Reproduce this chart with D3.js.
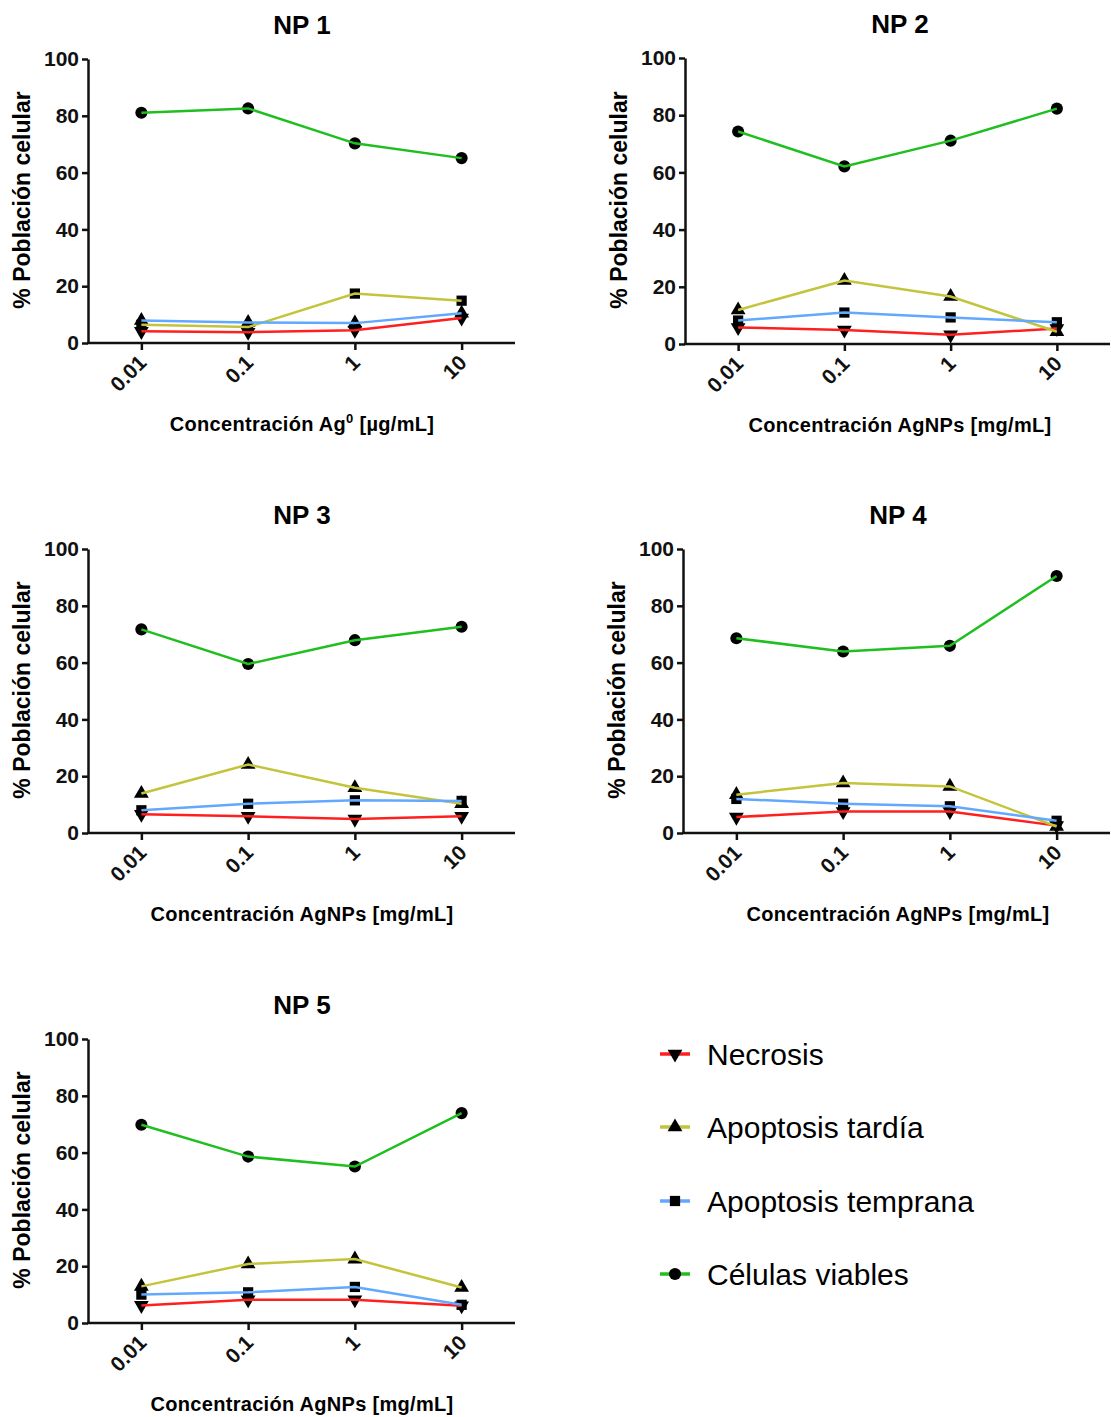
<!DOCTYPE html>
<html>
<head>
<meta charset="utf-8">
<script src="https://cdn.jsdelivr.net/npm/d3@7"></script>
<style>
  body { margin: 0; background: #fff; }
  text { font-family: "Liberation Sans", Arial, sans-serif; }
</style>
</head>
<body>
<script>
'use strict';

// x values and tick labels
const concentrations = [0.01, 0.1, 1, 10];
const tickLabels = ["0.01", "0.1", "1", "10"];
const yTicks = [0, 20, 40, 60, 80, 100];

// panels
const panelTitles = ["NP 1", "NP 2", "NP 3", "NP 4", "NP 5"];
const xTitles = ["Ag0", "AgNPs [mg/mL]", "AgNPs [mg/mL]", "AgNPs [mg/mL]", "AgNPs [mg/mL]"];

// series (one row per panel, NP1..NP5)
const seriesNames = ["Necrosis", "Apoptosis tardía", "Apoptosis temprana", "Células viables"];
const necrosis = [
  [4.1, 3.8, 4.5, 8.8],
  [5.8, 4.9, 3.2, 5.4],
  [6.6, 5.9, 4.9, 5.9],
  [5.6, 7.6, 7.6, 2.6],
  [6.2, 8.2, 8.2, 6.1]
];
const apoptosisTardia = [
  [6.4, 5.6, 17.4, 14.9],
  [11.9, 22.2, 16.6, 4.3],
  [13.9, 24.1, 15.9, 10.3],
  [13.5, 17.6, 16.4, 2.3],
  [12.9, 20.8, 22.5, 12.5]
];
const apoptosisTemprana = [
  [7.9, 7.2, 7.0, 10.5],
  [8.2, 11.0, 9.3, 7.6],
  [8.0, 10.3, 11.5, 11.3],
  [12.0, 10.3, 9.4, 4.3],
  [10.0, 10.8, 12.7, 6.4]
];
const celulasViables = [
  [81.1, 82.6, 70.3, 65.1],
  [74.3, 62.1, 71.1, 82.3],
  [71.7, 59.5, 67.9, 72.6],
  [68.6, 63.9, 65.9, 90.5],
  [69.8, 58.6, 55.1, 73.9]
];

(function() {

  let svg = "";

  const colors = ["#ff1f1f", "#c4c43c", "#62a8ff", "#20bf20"];
  const shapes = ["down", "up", "square", "circle"];

  // panel placement: axis left, axis right end, top (100) and bottom (0), text centre
  const layout = [
    { x0: 88,  x1: 515,  top: 59,   bottom: 343,  cx: 302 },
    { x0: 685, x1: 1110, top: 58,   bottom: 344,  cx: 900 },
    { x0: 88,  x1: 515,  top: 549,  bottom: 833,  cx: 302 },
    { x0: 683, x1: 1110, top: 549,  bottom: 833,  cx: 898 },
    { x0: 88,  x1: 515,  top: 1039, bottom: 1323, cx: 302 }
  ];

  window.onload = function() {
    svg = d3.select('body')
      .append('svg')
      .attr('width', 1111)
      .attr('height', 1417);

    const allSeries = [necrosis, apoptosisTardia, apoptosisTemprana, celulasViables];

    for (let p = 0; p < 5; p++) {
      // NP 1 has the markers of the two apoptosis series swapped
      let markerOrder = p === 0 ? ["down", "square", "up", "circle"] : shapes;
      drawPanel(p, allSeries.map((s) => s[p]), markerOrder);
    }
    drawLegend();
  }

  function symbolPath(shape) {
    if (shape === "circle") return d3.symbol().type(d3.symbolCircle).size(115)();
    if (shape === "square") return d3.symbol().type(d3.symbolSquare).size(105)();
    return d3.symbol().type(d3.symbolTriangle).size(95)();
  }

  function drawPanel(p, values, markerOrder) {
    let L = layout[p];
    let g = svg.append('g');

    let xScale = d3.scaleLog()
      .domain([Math.pow(10, -2.5), Math.pow(10, 1.5)])
      .range([L.x0, L.x1]);
    let yScale = d3.scaleLinear()
      .domain([0, 100])
      .range([L.bottom, L.top]);

    // y axis
    let yAxis = g.append('g')
      .attr('transform', 'translate(' + L.x0 + ',0)')
      .call(d3.axisLeft(yScale).tickValues(yTicks).tickSize(6).tickPadding(3).tickSizeOuter(0));
    yAxis.selectAll('text')
      .style('font-size', '21px')
      .style('font-weight', 'bold')
      .attr('fill', '#111');

    // x axis
    let xAxis = g.append('g')
      .attr('transform', 'translate(0,' + L.bottom + ')')
      .call(d3.axisBottom(xScale).tickValues(concentrations)
        .tickFormat((d, i) => tickLabels[i]).tickSize(7).tickSizeOuter(0));
    xAxis.select('.domain').attr('d', 'M' + (L.x0 - 1) + ',0H' + L.x1);
    xAxis.selectAll('text')
      .style('font-size', '21px')
      .style('font-weight', 'bold')
      .attr('fill', '#111')
      .attr('text-anchor', 'end')
      .attr('dy', null)
      .attr('transform', 'translate(6,21) rotate(-45)')
      .attr('y', 0)
      .attr('x', 0);

    g.selectAll('.domain, .tick line')
      .attr('stroke', '#111')
      .attr('stroke-width', 2.5);

    // markers first, then lines on top
    values.forEach((vals, s) => {
      g.selectAll('.m' + s)
        .data(vals)
        .enter()
        .append('path')
        .attr('d', symbolPath(markerOrder[s]))
        .attr('transform', (d, i) => 'translate(' + xScale(concentrations[i]) + ',' + yScale(d) + ')' +
          (markerOrder[s] === "down" ? ' rotate(180)' : ''))
        .attr('fill', '#000');
    });

    let line = d3.line()
      .x((d, i) => xScale(concentrations[i]))
      .y((d) => yScale(d));

    values.forEach((vals, s) => {
      g.append('path')
        .datum(vals)
        .attr('d', line)
        .attr('fill', 'none')
        .attr('stroke', colors[s])
        .attr('stroke-width', 2.5);
    });

    // title
    g.append('text')
      .attr('x', L.cx)
      .attr('y', L.top - 25)
      .attr('text-anchor', 'middle')
      .style('font-size', '26px')
      .style('font-weight', 'bold')
      .text(panelTitles[p]);

    // y label
    g.append('text')
      .attr('transform', 'translate(' + (L.x0 - 58) + ',' + ((L.top + L.bottom) / 2 - 1) + ') rotate(-90)')
      .attr('text-anchor', 'middle')
      .style('font-size', '23px')
      .style('font-weight', 'bold')
      .text('% Población celular');

    // x label
    let xl = g.append('text')
      .attr('x', L.cx)
      .attr('y', L.bottom + 88)
      .attr('text-anchor', 'middle')
      .style('font-size', '20px')
      .style('font-weight', 'bold')
      .style('letter-spacing', '0.3px');
    if (xTitles[p] === "Ag0") {
      xl.append('tspan').text('Concentración Ag');
      xl.append('tspan').attr('dy', -8).style('font-size', '13px').text('0');
      xl.append('tspan').attr('dy', 8).text(' [µg/mL]');
    } else {
      xl.text('Concentración ' + xTitles[p]);
    }
  }

  function drawLegend() {
    let legendY = [1054, 1127, 1201, 1274];
    seriesNames.forEach((name, i) => {
      svg.append('line')
        .attr('x1', 660)
        .attr('x2', 690)
        .attr('y1', legendY[i])
        .attr('y2', legendY[i])
        .attr('stroke', colors[i])
        .attr('stroke-width', 3.5);
      svg.append('path')
        .attr('d', symbolPath(shapes[i]))
        .attr('transform', 'translate(675,' + legendY[i] + ')' + (shapes[i] === "down" ? ' rotate(180)' : ''))
        .attr('fill', '#000');
      svg.append('text')
        .attr('x', 707)
        .attr('y', legendY[i])
        .attr('dy', '0.35em')
        .style('font-size', '30px')
        .text(name);
    });
  }

})();
</script>
</body>
</html>
